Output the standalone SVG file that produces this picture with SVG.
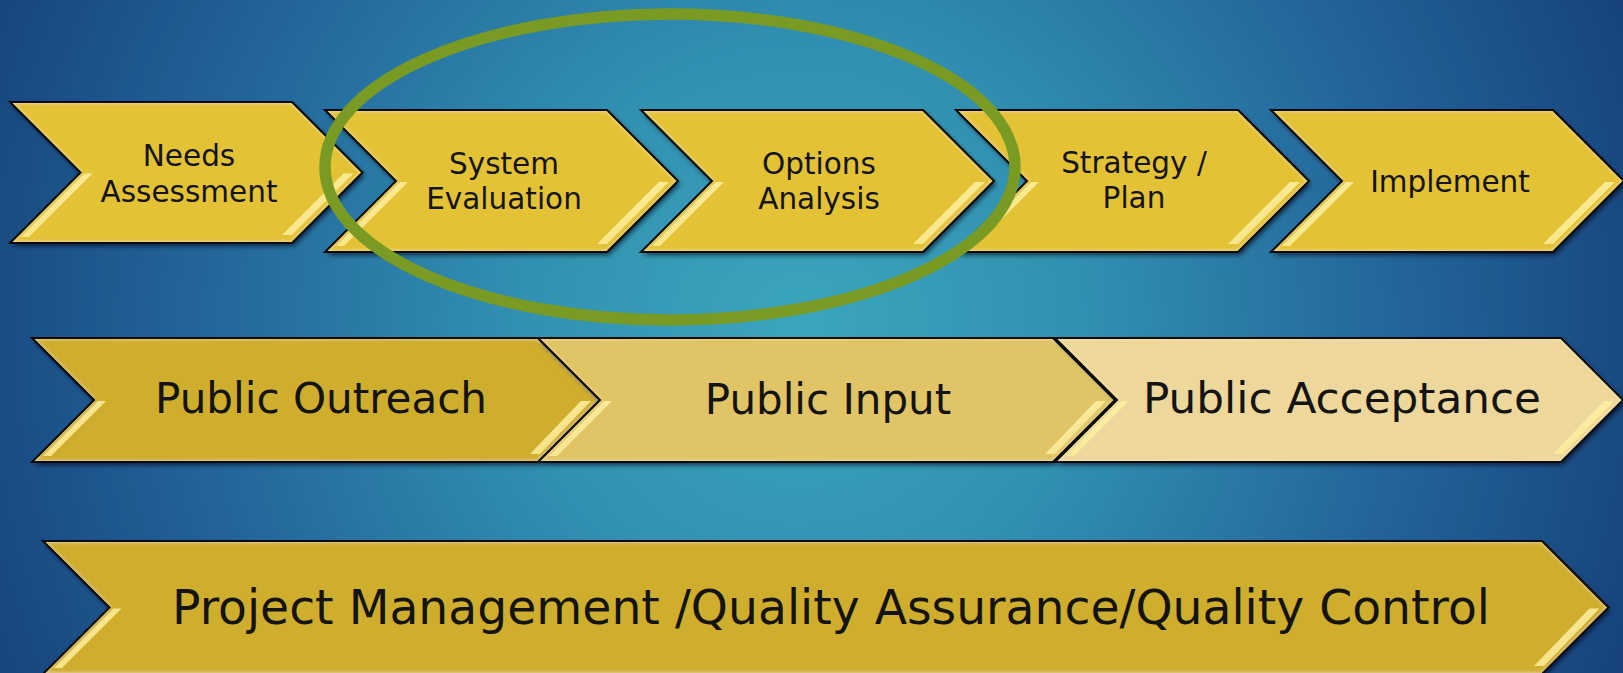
<svg xmlns="http://www.w3.org/2000/svg" width="1623" height="673" viewBox="0 0 1623 673">
<style>
.fill{filter:url(#chev)}
.r1{fill:#e4c236}
.po{fill:#cfae2d}
.pi{fill:#e1c465}
.pa{fill:#eed79b}
.pm{fill:#cfae2e}
.edge{fill:none;stroke:#0b0b0b;stroke-width:2;stroke-linejoin:miter}
.hl{fill:url(#hlg)}
.t{font-family:"DejaVu Sans","Liberation Sans",sans-serif;fill:#141414;text-anchor:middle}
.t1{font-size:29.5px}
.t2{font-size:42px}
.t3{font-size:47.5px}
</style>
<defs>
<radialGradient id="bg" gradientUnits="userSpaceOnUse" cx="800" cy="330" r="950">
<stop offset="0" stop-color="#3ba6bc"/>
<stop offset="0.3" stop-color="#3190b1"/>
<stop offset="0.62" stop-color="#23669b"/>
<stop offset="1" stop-color="#143a76"/>
</radialGradient>
<linearGradient id="hlg" x1="0" y1="0" x2="1" y2="1">
<stop offset="0" stop-color="#fff3a0" stop-opacity="0.1"/>
<stop offset="0.35" stop-color="#fff5b0" stop-opacity="0.85"/>
<stop offset="0.8" stop-color="#f8e27a" stop-opacity="0.85"/>
<stop offset="1" stop-color="#efd060" stop-opacity="0.4"/>
</linearGradient>
<filter id="chev" x="-5%" y="-15%" width="110%" height="135%">
<feOffset in="SourceAlpha" dx="2" dy="3" result="o"/>
<feGaussianBlur in="o" stdDeviation="2.5" result="ob"/>
<feFlood flood-color="#000814" flood-opacity="0.65"/>
<feComposite in2="ob" operator="in" result="shadow"/>
<feGaussianBlur in="SourceAlpha" stdDeviation="2.2" result="ib"/>
<feComposite in="SourceAlpha" in2="ib" operator="out" result="band"/>
<feFlood flood-color="#fff7cc" flood-opacity="0.85"/>
<feComposite in2="band" operator="in" result="glow"/>
<feMerge><feMergeNode in="shadow"/><feMergeNode in="SourceGraphic"/><feMergeNode in="glow"/></feMerge>
</filter>
</defs>
<rect width="1623" height="673" fill="url(#bg)"/>
<g id="connectors"/>
<g id="needs-assessment">
<polygon class="fill r1" points="10,102 292,102 362.5,172.5 292,243 10,243 80.5,172.5"/>
<polygon class="hl" points="84.5,173.5 92.5,173.5 29,237 21,237"/>
<polygon class="hl" points="343.5,173.5 353.5,173.5 292,235 282,235"/>
<polygon class="edge" points="10,102 292,102 362.5,172.5 292,243 10,243 80.5,172.5"/>
<text class="t t1" x="189" y="166">Needs</text>
<text class="t t1" x="189" y="202">Assessment</text>
</g>
<g id="system-evaluation">
<polygon class="fill r1" points="325,110 607,110 678,181 607,252 325,252 396,181"/>
<polygon class="hl" points="400,182 408,182 344,246 336,246"/>
<polygon class="hl" points="659,182 669,182 607,244 597,244"/>
<polygon class="edge" points="325,110 607,110 678,181 607,252 325,252 396,181"/>
<text class="t t1" x="504" y="174">System</text>
<text class="t t1" x="504" y="209">Evaluation</text>
</g>
<g id="options-analysis">
<polygon class="fill r1" points="641,110 923,110 994,181 923,252 641,252 712,181"/>
<polygon class="hl" points="716,182 724,182 660,246 652,246"/>
<polygon class="hl" points="975,182 985,182 923,244 913,244"/>
<polygon class="edge" points="641,110 923,110 994,181 923,252 641,252 712,181"/>
<text class="t t1" x="819" y="174">Options</text>
<text class="t t1" x="819" y="209">Analysis</text>
</g>
<g id="strategy-plan">
<polygon class="fill r1" points="956,110 1238,110 1309,181 1238,252 956,252 1027,181"/>
<polygon class="hl" points="1031,182 1039,182 975,246 967,246"/>
<polygon class="hl" points="1290,182 1300,182 1238,244 1228,244"/>
<polygon class="edge" points="956,110 1238,110 1309,181 1238,252 956,252 1027,181"/>
<text class="t t1" x="1134" y="173">Strategy /</text>
<text class="t t1" x="1134" y="208">Plan</text>
</g>
<g id="implement">
<polygon class="fill r1" points="1271,110 1553,110 1624,181 1553,252 1271,252 1342,181"/>
<polygon class="hl" points="1346,182 1354,182 1290,246 1282,246"/>
<polygon class="hl" points="1605,182 1615,182 1553,244 1543,244"/>
<polygon class="edge" points="1271,110 1553,110 1624,181 1553,252 1271,252 1342,181"/>
<text class="t t1" x="1450" y="192">Implement</text>
</g>
<g id="public-outreach">
<polygon class="fill po" points="32,338 538,338 600,400 538,462 32,462 94,400"/>
<polygon class="hl" points="98,401 106,401 51,456 43,456"/>
<polygon class="hl" points="581,401 591,401 540,454 530,454"/>
<polygon class="edge" points="32,338 538,338 600,400 538,462 32,462 94,400"/>
<text class="t t2" x="321" y="413" textLength="332" lengthAdjust="spacingAndGlyphs">Public Outreach</text>
</g>
<g id="public-input">
<polygon class="fill pi" points="538,338 1053,338 1115,400 1053,462 538,462 600,400"/>
<polygon class="hl" points="604,401 612,401 557,456 549,456"/>
<polygon class="hl" points="1096,401 1106,401 1055,454 1045,454"/>
<polygon class="edge" points="538,338 1053,338 1115,400 1053,462 538,462 600,400"/>
<text class="t t2" x="828" y="414">Public Input</text>
</g>
<g id="public-acceptance">
<polygon class="fill pa" points="1055,338 1561,338 1623,400 1561,462 1055,462 1117,400"/>
<polygon class="hl" points="1121,401 1129,401 1074,456 1066,456"/>
<polygon class="hl" points="1604,401 1614,401 1563,454 1553,454"/>
<polygon class="edge" points="1055,338 1561,338 1623,400 1561,462 1055,462 1117,400"/>
<text class="t t2" x="1342" y="413" textLength="398" lengthAdjust="spacingAndGlyphs">Public Acceptance</text>
</g>
<g id="project-management">
<polygon class="fill pm" points="43,541 1542,541 1608.5,607.5 1542,674 43,674 109.5,607.5"/>
<polygon class="hl" points="113.5,608.5 121.5,608.5 62,668 54,668"/>
<polygon class="hl" points="1589.5,608.5 1599.5,608.5 1544,666 1534,666"/>
<polygon class="edge" points="43,541 1542,541 1608.5,607.5 1542,674 43,674 109.5,607.5"/>
<text class="t t3" x="831" y="624" textLength="1318" lengthAdjust="spacingAndGlyphs">Project Management /Quality Assurance/Quality Control</text>
</g>
<g id="focus-ellipse">
<ellipse cx="670" cy="167" rx="345" ry="153" fill="none" stroke="#7a9b23" stroke-width="11.5"/>
</g>
</svg>
